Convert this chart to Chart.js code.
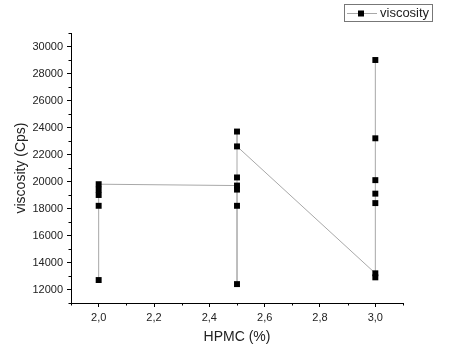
<!DOCTYPE html>
<html>
<head>
<meta charset="utf-8">
<script src="https://cdn.jsdelivr.net/npm/chart.js@4"></script>
<style>
  html, body { margin: 0; padding: 0; background: #fff; }
  #wrap { width: 451px; height: 357px; }
</style>
</head>
<body>
<div id="wrap"><canvas id="c" width="451" height="357"></canvas></div>
<script>
// ---- data ----
const hpmc = [2.0, 2.0, 2.0, 2.0, 2.0,
              2.5, 2.5, 2.5, 2.5, 2.5, 2.5, 2.5,
              3.0, 3.0, 3.0, 3.0, 3.0, 3.0, 3.0];
const viscosity = [12700, 18200, 19000, 19400, 19800,
                   19700, 19400, 18200, 12400, 20300, 23700, 22600,
                   13200, 12900, 18400, 19100, 20100, 23200, 29000];
const xTicks = [2.0, 2.2, 2.4, 2.6, 2.8, 3.0];
const xTickLabels = ['2,0', '2,2', '2,4', '2,6', '2,8', '3,0'];
const yTicks = [12000, 14000, 16000, 18000, 20000, 22000, 24000, 26000, 28000, 30000];
const seriesName = 'viscosity';
const xTitle = 'HPMC (%)';
const yTitle = 'viscosity (Cps)';

const FONT = 'Liberation Sans, Arial, sans-serif';
const TEXT = '#222';
const LINE = '#a8a8a8';

const points = hpmc.map((x, i) => ({ x: x, y: viscosity[i] }));

const minorTicks = {
  id: 'minorTicks',
  afterDraw(chart) {
    const ctx = chart.ctx;
    const xs = chart.scales.x, ys = chart.scales.y;
    ctx.save();
    ctx.strokeStyle = '#000';
    ctx.lineWidth = 1;
    ctx.beginPath();
    for (let v = 1.9; v <= 3.1001; v += 0.2) {
      const px = Math.round(xs.getPixelForValue(v)) + 0.5;
      ctx.moveTo(px, ys.bottom);
      ctx.lineTo(px, ys.bottom + 2.5);
    }
    for (let v = 11000; v <= 31000; v += 2000) {
      const py = Math.round(ys.getPixelForValue(v)) + 0.5;
      ctx.moveTo(xs.left, py);
      ctx.lineTo(xs.left - 2.5, py);
    }
    ctx.stroke();
    ctx.restore();
  }
};

const boxLegend = {
  id: 'boxLegend',
  afterDraw(chart) {
    const ctx = chart.ctx;
    const ds = chart.data.datasets[0];
    ctx.save();
    ctx.strokeStyle = '#777';
    ctx.lineWidth = 1;
    ctx.strokeRect(344.5, 4.5, 88, 17);
    ctx.strokeStyle = ds.borderColor;
    ctx.beginPath();
    ctx.moveTo(347, 13.5);
    ctx.lineTo(377, 13.5);
    ctx.stroke();
    ctx.fillStyle = '#000';
    ctx.fillRect(358, 10.5, 6, 6);
    ctx.fillStyle = TEXT;
    ctx.font = '13px ' + FONT;
    ctx.textBaseline = 'middle';
    ctx.fillText(ds.label, 380, 13.5);
    ctx.restore();
  }
};

new Chart(document.getElementById('c'), {
  type: 'line',
  data: {
    datasets: [{
      label: seriesName,
      data: points,
      borderColor: LINE,
      borderWidth: 1,
      pointStyle: 'rect',
      pointRadius: 4.2,
      pointBackgroundColor: '#000',
      pointBorderColor: '#000',
      pointBorderWidth: 0,
      tension: 0,
      fill: false
    }]
  },
  options: {
    responsive: false,
    animation: false,
    events: [],
    layout: { padding: { left: 0, right: 48, top: 33, bottom: 0 } },
    plugins: { legend: { display: false }, tooltip: { enabled: false } },
    scales: {
      x: {
        type: 'linear',
        min: 1.9, max: 3.1,
        afterBuildTicks: s => { s.ticks = xTicks.map(v => ({ value: v })); },
        afterFit: s => { s.height = 54; },
        border: { display: true, color: '#000', width: 1 },
        grid: { display: true, drawOnChartArea: false, drawTicks: true, tickLength: 4, color: '#000' },
        ticks: {
          color: TEXT, font: { family: FONT, size: 11 }, padding: 4, maxRotation: 0,
          callback: (v, i) => xTickLabels[i]
        },
        title: { display: true, text: xTitle, color: TEXT, font: { family: FONT, size: 14 }, padding: { top: 4, bottom: 11 } }
      },
      y: {
        type: 'linear',
        min: 11000, max: 31000,
        afterBuildTicks: s => { s.ticks = yTicks.map(v => ({ value: v })); },
        afterFit: s => { s.width = 71; },
        border: { display: true, color: '#000', width: 1 },
        grid: { display: true, drawOnChartArea: false, drawTicks: true, tickLength: 4, color: '#000' },
        ticks: {
          color: TEXT, font: { family: FONT, size: 11 }, padding: 4,
          callback: v => String(v)
        },
        title: { display: true, text: yTitle, color: TEXT, font: { family: FONT, size: 14 }, padding: { top: 13, bottom: 2 } }
      }
    }
  },
  plugins: [minorTicks, boxLegend]
});
</script>
</body>
</html>
